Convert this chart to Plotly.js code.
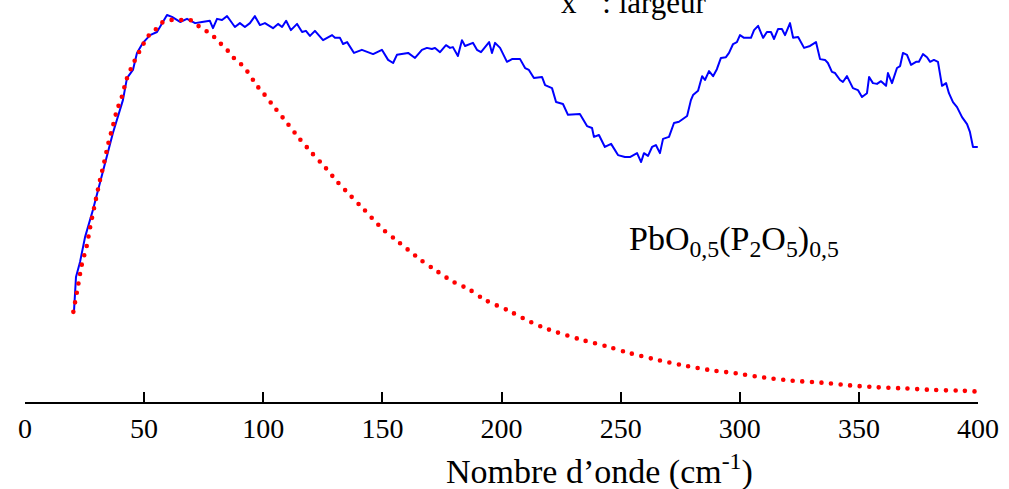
<!DOCTYPE html>
<html>
<head>
<meta charset="utf-8">
<script src="https://cdn.plot.ly/plotly-3.0.1.min.js"></script>
<style>
html, body { margin: 0; padding: 0; background: #fff; }
#chart { width: 1009px; height: 489px; }
#chart .js-line { stroke-linecap: round; stroke-linejoin: round; }
</style>
</head>
<body>
<div id="chart"></div>
<script>
// Measured spectrum (wavenumber, cm-1) and normalised intensity
const measuredX = [20.6,21.4,23.1,25.2,28.5,32.7,36.9,41.1,42.8,45.3,47.0,49.5,52.5,55.4,59.6,61.7,65.1,68.0,71.4,74.3,77.6,78.9,80.6,82.7,84.8,86.0,88.1,90.2,92.3,94.4,96.5,98.6,100.7,104.1,106.2,107.9,109.6,111.6,114.2,116.3,117.9,119.6,121.7,125.1,128.9,130.1,132.2,133.5,135.2,138.1,141.4,146.1,149.8,152.4,154.5,156.1,158.7,160.8,163.7,166.6,168.7,170.8,172.1,174.2,176.7,178.4,179.6,181.7,183.4,184.7,188.0,189.7,191.4,194.8,196.0,197.3,199.4,200.6,202.3,204.4,207.8,209.9,211.5,213.6,217.0,218.3,221.2,222.9,225.8,227.9,230.8,232.9,235.9,238.0,238.8,240.9,243.4,246.0,248.9,251.8,253.9,256.9,258.6,259.8,261.5,263.2,264.8,266.5,267.8,270.3,272.4,274.5,277.9,279.5,280.4,282.5,284.2,285.4,287.1,288.8,290.4,292.1,294.2,295.5,297.2,298.8,300.1,301.8,304.7,306.0,307.7,309.8,311.4,313.1,314.4,316.1,317.7,319.0,321.1,322.4,324.5,327.0,329.5,332.0,333.7,335.8,337.0,338.7,340.0,342.1,343.3,345.0,347.5,349.6,351.3,353.4,354.3,355.9,357.6,359.3,361.4,362.2,363.9,366.0,367.3,368.5,370.2,371.9,374.0,375.2,376.9,378.6,379.9,381.5,383.2,384.9,386.6,387.8,389.5,391.2,393.3,395.4,396.6,397.9,399.6];
const measuredY = [0.238,0.323,0.362,0.426,0.496,0.599,0.695,0.780,0.837,0.858,0.902,0.928,0.948,0.956,1.000,0.995,0.982,0.990,0.979,0.982,0.985,0.966,0.990,0.987,0.997,0.987,0.969,0.979,0.969,0.979,0.997,0.974,0.979,0.966,0.977,0.969,0.985,0.961,0.977,0.956,0.959,0.946,0.959,0.935,0.948,0.941,0.941,0.925,0.930,0.902,0.910,0.899,0.910,0.884,0.876,0.897,0.899,0.902,0.889,0.910,0.915,0.912,0.915,0.904,0.922,0.915,0.917,0.894,0.935,0.920,0.928,0.910,0.904,0.930,0.902,0.928,0.915,0.899,0.879,0.886,0.886,0.863,0.858,0.837,0.840,0.819,0.811,0.775,0.770,0.742,0.744,0.744,0.713,0.708,0.685,0.690,0.659,0.667,0.638,0.633,0.633,0.643,0.620,0.643,0.636,0.659,0.664,0.643,0.680,0.685,0.721,0.724,0.739,0.780,0.793,0.804,0.842,0.832,0.855,0.842,0.860,0.889,0.891,0.902,0.925,0.930,0.948,0.941,0.941,0.961,0.972,0.941,0.956,0.956,0.938,0.964,0.964,0.948,0.979,0.941,0.943,0.915,0.920,0.930,0.886,0.884,0.876,0.853,0.850,0.832,0.827,0.842,0.811,0.806,0.788,0.798,0.840,0.824,0.822,0.829,0.817,0.850,0.824,0.863,0.868,0.902,0.897,0.871,0.879,0.879,0.899,0.891,0.879,0.884,0.879,0.817,0.824,0.798,0.775,0.762,0.736,0.718,0.698,0.659,0.659];

// Model curve (x^-1 : largeur)
const modelX = [20.3,22.4,23.8,25.9,27.3,29.8,31.5,33.2,35.0,37.1,38.5,40.6,42.7,45.8,49.7,51.8,54.6,57.1,60.9,65.1,69.3,72.7,76.0,78.9,81.8,84.8,87.3,90.2,93.2,97.4,100.3,104.9,110.4,115.0,120.5,125.9,131.1,136.8,142.2,150.1,156.7,166.1,172.7,179.6,186.4,193.0,203.0,210.5,218.6,232.9,244.7,252.8,263.9,275.2,286.9,298.5,310.4,322.1,334.3,346.1,357.8,369.6,381.7,393.7,399.6];
const modelY = [0.233,0.305,0.354,0.403,0.450,0.525,0.574,0.618,0.669,0.718,0.752,0.788,0.835,0.879,0.925,0.946,0.961,0.979,0.987,0.987,0.987,0.972,0.959,0.946,0.928,0.910,0.891,0.876,0.855,0.817,0.796,0.760,0.718,0.682,0.643,0.607,0.569,0.532,0.498,0.447,0.414,0.367,0.339,0.311,0.291,0.264,0.236,0.212,0.190,0.162,0.143,0.128,0.111,0.096,0.083,0.074,0.063,0.055,0.050,0.043,0.038,0.035,0.031,0.029,0.027];

const xTicks = [0,50,100,150,200,250,300,350,400];
const xTitle = 'Nombre d\u2019onde (cm<sup>-1</sup>)';
const sampleLabel = 'PbO<sub>0,5</sub>(P<sub>2</sub>O<sub>5</sub>)<sub>0,5</sub>';
const modelLabel = 'x<sup>-1</sup> : largeur';

const serif = 'Liberation Serif, Times New Roman, serif';

const traces = [
  { x: measuredX, y: measuredY, type: 'scatter', mode: 'lines',
    line: { color: '#0000ff', width: 2 }, hoverinfo: 'skip' },
  { x: modelX, y: modelY, type: 'scatter', mode: 'lines',
    line: { color: '#ff0000', width: 4.6, dash: '0px,9.6px', shape: 'spline', smoothing: 0.8 }, hoverinfo: 'skip' }
];

const layout = {
  width: 1009, height: 489,
  margin: { l: 25, r: 31, t: 0, b: 87 },
  paper_bgcolor: '#ffffff', plot_bgcolor: '#ffffff',
  showlegend: false,
  font: { family: serif, color: '#000' },
  xaxis: {
    range: [0, 400], tickvals: xTicks, ticktext: xTicks.map(String),
    showline: true, linecolor: '#000', linewidth: 2,
    ticks: 'inside', ticklen: 10, tickwidth: 2, tickcolor: '#000',
    showgrid: false, zeroline: false, automargin: false,
    tickfont: { family: serif, size: 28, color: '#000' }
  },
  yaxis: { range: [0, 402/387], visible: false, fixedrange: true },
  annotations: [
    { text: xTitle, xref: 'x', yref: 'paper', x: 241.3, y: -0.169,
      xanchor: 'center', yanchor: 'middle', showarrow: false,
      font: { family: serif, size: 34, color: '#000' } },
    { text: sampleLabel, xref: 'x', yref: 'y', x: 252.7, y: 0.416,
      xanchor: 'left', yanchor: 'middle', showarrow: false,
      font: { family: serif, size: 34, color: '#000' } },
    { text: modelLabel, xref: 'x', yref: 'paper', x: 224.2, y: 1.0,
      xanchor: 'left', yanchor: 'middle', showarrow: false,
      font: { family: serif, size: 31, color: '#000' } }
  ]
};

Plotly.newPlot('chart', traces, layout, { staticPlot: true, displayModeBar: false });
</script>
</body>
</html>
